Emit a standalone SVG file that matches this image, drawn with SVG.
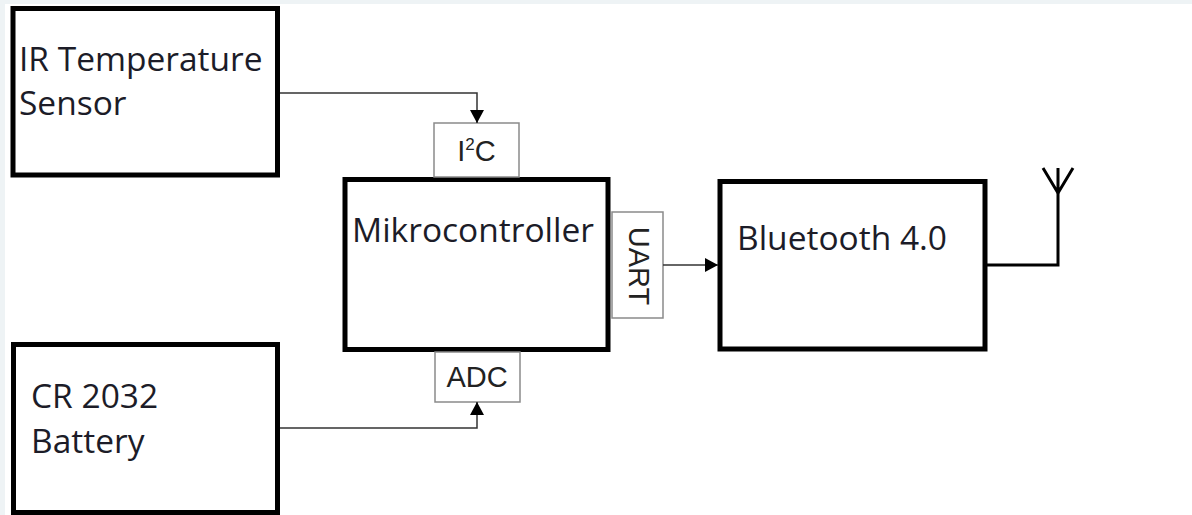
<svg xmlns="http://www.w3.org/2000/svg" width="1192" height="515" viewBox="0 0 1192 515">
<style>
.blk{fill:#fff;stroke:#000;stroke-width:5}
.port{fill:#fff;stroke:#8a8a8a;stroke-width:1.5}
.lbl{font-family:"Open Sans","Liberation Sans",sans-serif;font-size:33.5px;fill:#1c1c28}
.plbl{font-family:"Liberation Sans",Arial,sans-serif;font-size:29px;fill:#222}
.wire{fill:none;stroke:#333;stroke-width:1.5}
.ant{fill:none;stroke:#000;stroke-width:3}
</style>
<defs>
<marker id="arr" markerWidth="14" markerHeight="14" refX="13" refY="7" orient="auto" markerUnits="userSpaceOnUse" viewBox="0 0 14 14">
<path d="M0,0 L13,7 L0,14 Z" fill="#000"/>
</marker>
</defs>
<rect x="0" y="0" width="1192" height="515" fill="#eef3f5"/>
<rect x="5" y="4" width="1187" height="511" fill="#fff"/>
<g id="ir-sensor">
<rect class="blk" x="13" y="8.5" width="264.5" height="166.5"/>
<text class="lbl" x="19" y="71">IR Temperature</text>
<text class="lbl" x="19" y="115">Sensor</text>
</g>
<g id="battery">
<rect class="blk" x="13.5" y="344.5" width="264" height="168"/>
<text class="lbl" x="31" y="408">CR 2032</text>
<text class="lbl" x="31" y="453">Battery</text>
</g>
<g id="microcontroller">
<rect class="blk" x="345" y="179.5" width="263" height="170"/>
<text class="lbl" x="352" y="242">Mikrocontroller</text>
</g>
<g id="i2c">
<rect class="port" x="434" y="123" width="85" height="54"/>
<text class="plbl" x="476.5" y="161" text-anchor="middle">I<tspan font-size="17" dy="-11">2</tspan><tspan dy="11">C</tspan></text>
</g>
<g id="adc">
<rect class="port" x="435" y="352" width="85" height="50"/>
<text class="plbl" x="477" y="387" text-anchor="middle">ADC</text>
</g>
<g id="uart">
<rect class="port" x="612" y="212" width="51" height="106"/>
<text class="plbl" x="0" y="0" font-size="30" text-anchor="middle" transform="translate(629,266) rotate(90)">UART</text>
</g>
<g id="bluetooth">
<rect class="blk" x="720" y="181.5" width="265" height="167.5"/>
<text class="lbl" x="737" y="250">Bluetooth 4.0</text>
</g>
<g id="antenna">
<path class="ant" d="M1058,193 L1043,168 M1058,193 L1073,168 M1058,168 L1058,193"/>
</g>
<g id="connectors">
<path class="wire" d="M280,93 H477 V123" marker-end="url(#arr)"/>
<path class="wire" d="M280,428 H477 V402" marker-end="url(#arr)"/>
<path class="wire" d="M663,265 H718" marker-end="url(#arr)"/>
<path class="ant" d="M987,265 H1058 V193"/>
</g>
</svg>
